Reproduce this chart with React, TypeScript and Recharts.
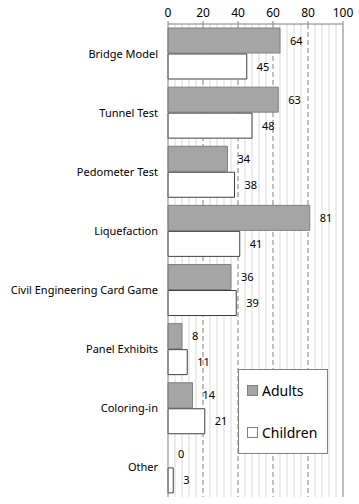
import { BarChart, Bar, XAxis, YAxis, CartesianGrid, LabelList } from 'recharts';

const categories = [
  'Bridge Model',
  'Tunnel Test',
  'Pedometer Test',
  'Liquefaction',
  'Civil Engineering Card Game',
  'Panel Exhibits',
  'Coloring-in',
  'Other',
];
const adults = [64, 63, 34, 81, 36, 8, 14, 0];
const children = [45, 48, 38, 41, 39, 11, 21, 3];
const xTicks = [0, 20, 40, 60, 80, 100];
const minorLines = [4, 8, 12, 16, 24, 28, 32, 36, 44, 48, 52, 56, 64, 68, 72, 76, 84, 88, 92, 96];
const majorLines = [20, 40, 60, 80];
const seriesNames = ['Adults', 'Children'];

const data = categories.map((name, i) => ({ name, Adults: adults[i], Children: children[i] }));

const font = 'Noto Sans, sans-serif';

const gridAt = (values: number[]) => (props: any) => {
  const { xAxis, offset } = props;
  const s = xAxis && xAxis.scale;
  if (typeof s === 'function') return values.map((v) => s(v));
  if (s && typeof s.map === 'function') return values.map((v) => s.map(v));
  return values.map((v) => offset.left + (v / 100) * offset.width);
};

const CategoryTick = (props: any) => {
  const { x, y, payload } = props;
  return (
    <text x={x - 2} y={y} dy={4} textAnchor='end' fill='#000' fontSize={11} fontFamily={font}>
      {payload.value}
    </text>
  );
};

const ValueLabel = (props: any) => {
  const { x, y, width, height, value } = props;
  return (
    <text x={x + width + 10} y={y + height / 2} dy={4} fill='#000' fontSize={11} fontFamily={font}>
      {value}
    </text>
  );
};

// zero-length bars get no label from recharts, so the children label also
// writes the adults value one bar-slot above when that value is 0
const ChildLabel = (props: any) => {
  const { x, y, height, index } = props;
  return (
    <g>
      <ValueLabel {...props} />
      {adults[index] === 0 && (
        <ValueLabel x={x} y={y - height - 1} width={0} height={height} value={adults[index]} />
      )}
    </g>
  );
};

const LegendBox = () => (
  <div
    style={{
      position: 'absolute',
      left: 238,
      top: 369,
      width: 80,
      height: 83,
      paddingLeft: 8,
      border: '1px solid #808080',
      background: '#fff',
      fontFamily: font,
      fontSize: 14,
      display: 'flex',
      flexDirection: 'column',
      justifyContent: 'space-around',
    }}
  >
    {seriesNames.map((name) => (
      <div key={name} style={{ display: 'flex', alignItems: 'center' }}>
        <span
          style={{
            display: 'inline-block',
            width: 9,
            height: 9,
            background: name === 'Adults' ? '#a5a5a5' : '#fff',
            border: '1px solid #808080',
            marginRight: 4,
          }}
        />
        <span>{name}</span>
      </div>
    ))}
  </div>
);

export default function App() {
  return (
    <div style={{ position: 'absolute', left: 0, top: 0, width: 359, height: 504 }}>
      <BarChart
        width={359}
        height={504}
        data={data}
        layout='vertical'
        margin={{ top: 0, right: 16, left: 0, bottom: 7 }}
        barSize={25}
        barGap={1}
        barCategoryGap={4}
      >
        <CartesianGrid horizontal={false} stroke='#d9d9d9' verticalCoordinatesGenerator={gridAt(minorLines)} />
        <CartesianGrid
          horizontal={false}
          stroke='#808080'
          strokeDasharray='5 3'
          verticalCoordinatesGenerator={gridAt(majorLines)}
        />
        <CartesianGrid horizontal={false} stroke='#808080' verticalCoordinatesGenerator={gridAt([100])} />
        <XAxis
          type='number'
          orientation='top'
          domain={[0, 100]}
          ticks={xTicks}
          height={24}
          stroke='#808080'
          tickSize={3}
          tick={{ fill: '#000', fontSize: 12, fontFamily: font, dy: -2 }}
        />
        <YAxis
          type='category'
          dataKey='name'
          width={168}
          stroke='#808080'
          tickLine={false}
          tick={<CategoryTick />}
        />
        <Bar dataKey='Adults' fill='#a5a5a5' stroke='#808080' isAnimationActive={false}>
          <LabelList dataKey='Adults' content={<ValueLabel />} />
        </Bar>
        <Bar dataKey='Children' fill='#fff' stroke='#404040' isAnimationActive={false}>
          <LabelList dataKey='Children' content={<ChildLabel />} />
        </Bar>
      </BarChart>
      <LegendBox />
    </div>
  );
}
